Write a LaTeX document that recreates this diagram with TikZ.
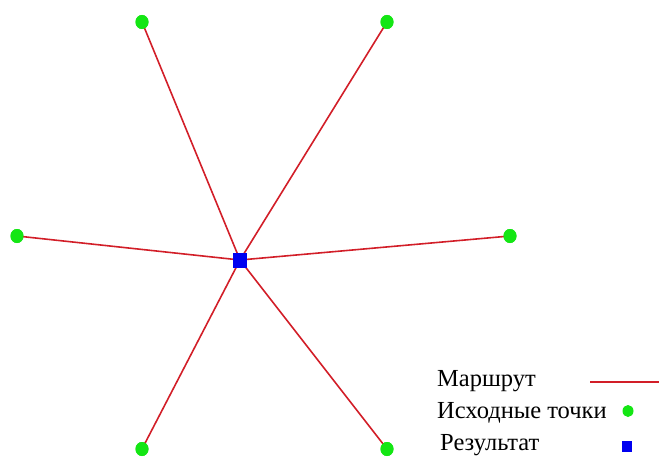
\documentclass[tikz,border=0pt]{standalone}
\usepackage{fontspec}
\setmainfont{Liberation Serif}
\newfontfamily\lblfont{Liberation Serif}
\usetikzlibrary{shapes.geometric}
\definecolor{route}{RGB}{210,30,40}
\definecolor{pt}{RGB}{20,230,20}
\definecolor{res}{RGB}{0,0,240}
\begin{document}
\begin{tikzpicture}[x=1pt,y=-1pt,
  src/.style={ellipse,fill=pt,inner sep=0pt,minimum width=13pt,minimum height=14pt},
  result/.style={rectangle,fill=res,inner sep=0pt,minimum width=14pt,minimum height=15pt},
  routeline/.style={draw=route,line width=1.6pt},
  lbl/.style={anchor=base west,inner sep=0pt,font=\lblfont\fontsize{24.5}{28}\selectfont}]
\useasboundingbox (0,0) rectangle (659,460);
\node[src] (p1) at (142,22) {};
\node[src] (p2) at (387,22) {};
\node[src] (p3) at (17,236) {};
\node[src] (p4) at (510,236) {};
\node[src] (p5) at (142,449) {};
\node[src] (p6) at (387,449) {};
\coordinate (c) at (240,260);
\foreach \p in {p1,p2,p3,p4,p5,p6} \draw[routeline] (c) -- (\p.center);
\node[src] at (142,22) {};
\node[src] at (387,22) {};
\node[src] at (17,236) {};
\node[src] at (510,236) {};
\node[src] at (142,449) {};
\node[src] at (387,449) {};
\node[result] (r) at (c) {};
% legend
\node[lbl] (l1) at (437,386) {Маршрут};
\node[lbl] (l2) at (437,418) {Исходные точки};
\node[lbl] (l3) at (440,450) {Результат};
\coordinate (la) at (590,382);
\coordinate (lb) at (659,382);
\draw[routeline] (la) -- (lb);
\node[src,minimum width=11pt,minimum height=12pt] (lp) at (628,411) {};
\node[result,minimum width=10pt,minimum height=11pt] (lr) at (627,446) {};
\end{tikzpicture}
\end{document}
